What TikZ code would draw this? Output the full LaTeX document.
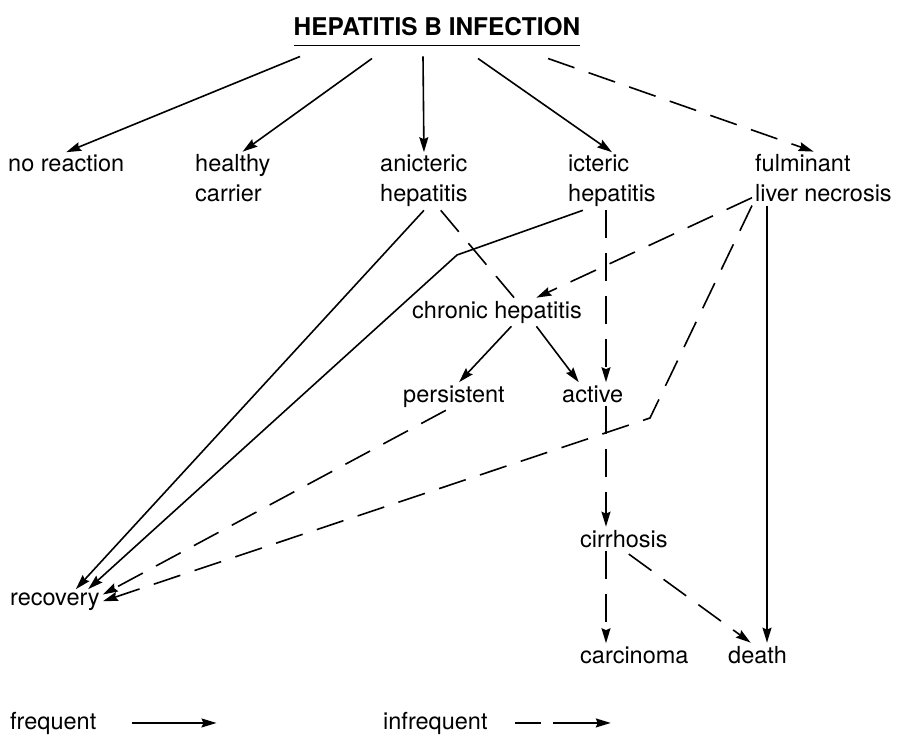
\documentclass[tikz,border=0pt]{standalone}
\usepackage{fontspec}
\setmainfont{TeX Gyre Heros}
\usetikzlibrary{arrows.meta,calc}

\begin{document}
\begin{tikzpicture}[x=1pt,y=-1pt,
  lab/.style={anchor=base west,inner sep=3pt,align=left,font=\fontsize{23.5}{30}\selectfont},
  freq/.style={line width=1.6pt,-{Stealth[length=15pt,width=9pt,inset=2pt]}},
  rare/.style={freq,dash pattern=on 28pt off 15pt}]
\useasboundingbox (0,0) rectangle (898,741);

% title
\node[anchor=base,inner sep=0pt,font=\bfseries\fontsize{24.4}{28}\selectfont] (title) at (437,36) {HEPATITIS B INFECTION};
\draw[line width=1.8pt] ([yshift=-9pt]title.south west) -- ([yshift=-9pt]title.south east);

% outcomes of the infection (two-line nodes sit on their last line)
\node[lab] (noreact) at (5,172) {no reaction};
\node[lab] (carrier) at (192,202) {healthy\\carrier};
\node[lab] (anic) at (377,202) {anicteric\\hepatitis};
\node[lab] (icter) at (565,202) {icteric\\hepatitis};
\node[lab] (fulmin) at (752,202) {fulminant\\liver necrosis};

\node[lab] (chronic) at (409,318) {chronic hepatitis};
\node[lab] (persist) at (400,402) {persistent};
\node[lab] (active) at (559,402) {active};
\node[lab] (cirrh) at (577,547) {cirrhosis};
\node[lab] (carcin) at (577,663) {carcinoma};
\node[lab] (death) at (725,663) {death};
\node[lab] (recov) at (7,605) {recovery};

% helper points
\coordinate (col) at (606,0);
\coordinate (col2) at (767,0);
\coordinate (bend1) at (457,255);
\coordinate (bend2) at (650,418);

% from the title
\draw[freq] ([xshift=-137pt,yshift=-20pt]title.south) -- (noreact.north);
\draw[freq] ([xshift=-65pt,yshift=-22pt]title.south) -- (carrier.70);
\draw[freq] ([xshift=-14pt,yshift=-20pt]title.south) -- (anic.north);
\draw[freq] ([xshift=41pt,yshift=-22pt]title.south) -- (icter.north);
\draw[rare] ([xshift=111pt,yshift=-22pt]title.south) -- (fulmin.110);

% second level
\draw[freq] (anic.south) -- (recov.30);
\draw[freq] (icter.225) -- (bend1) -- (recov.20);
\draw[rare,-] (anic.300) -- (chronic.40);
\draw[rare] (fulmin.195) -- (chronic.20);
\draw[rare] (icter.south -| col) -- (active.north -| col);
\draw[rare] (fulmin.south west) -- (bend2) -- (recov.east);
\draw[freq] (fulmin.south -| col2) -- (death.north -| col2);

% chronic course
\draw[freq] (chronic.315) -- (persist.70);
\draw[freq] (chronic.340) -- (active.140);
\draw[rare] (persist.240) -- (recov.8);
\draw[rare] (active.south -| col) -- (cirrh.north -| col);
\draw[rare] (cirrh.south -| col) -- (carcin.north -| col);
\draw[rare,shorten <=6pt] (cirrh.south) -- (death.120);

% legend
\node[lab] (freqlab) at (7,729) {frequent};
\draw[freq] ([xshift=32pt]freqlab.east) -- ++(85,0);
\node[lab] (infreqlab) at (380,729) {infrequent};
\draw[freq,dash pattern=on 26pt off 12pt on 80pt off 10pt] ([xshift=24pt]infreqlab.east) -- ++(96,0);

\end{tikzpicture}
\end{document}
